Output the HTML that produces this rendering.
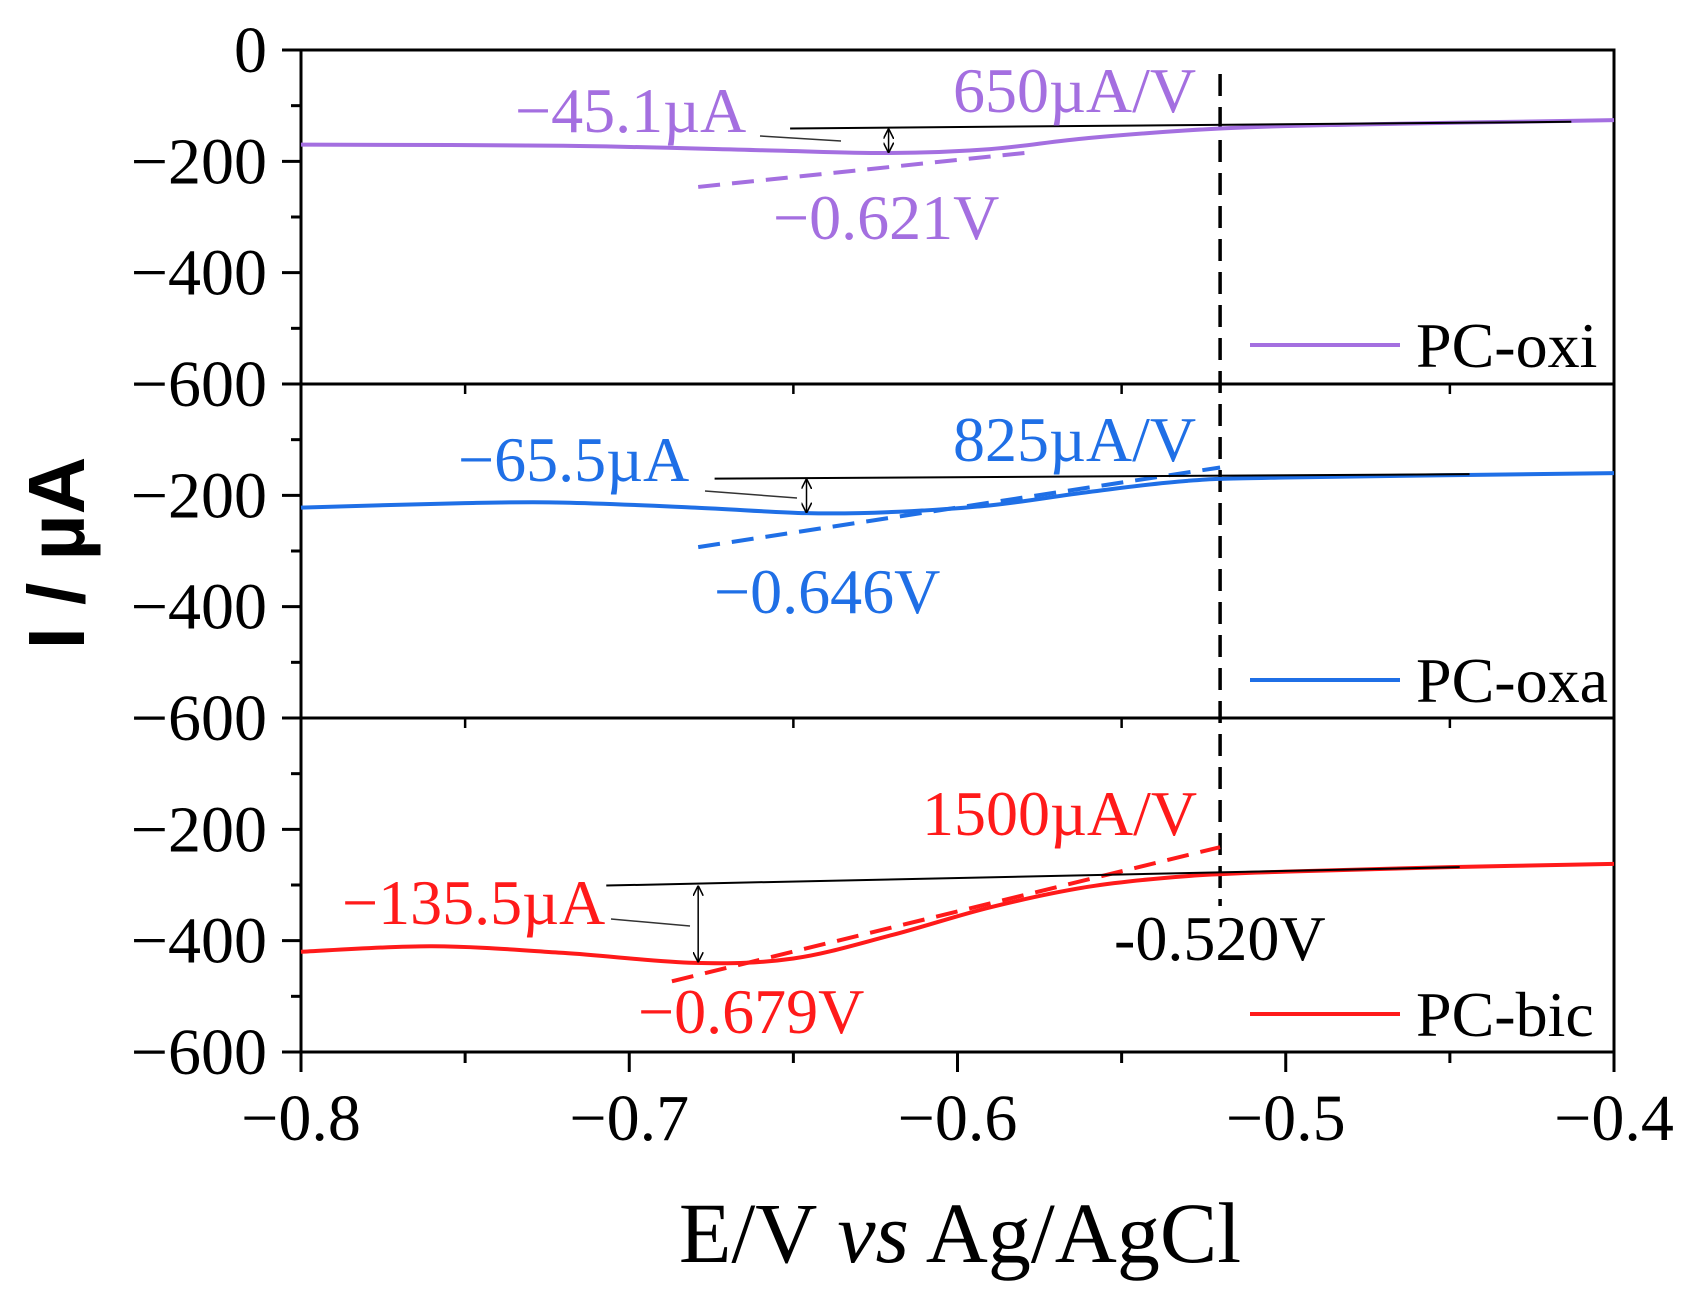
<!DOCTYPE html>
<html><head><meta charset="utf-8"><style>
html,body{margin:0;padding:0;background:#fff}
svg{display:block}
text{font-family:"Liberation Serif",serif}
</style></head><body>
<svg id="s" width="1700" height="1306" viewBox="0 0 1700 1306" xmlns="http://www.w3.org/2000/svg"></svg>
<script>
const s=document.getElementById('s');
const X0=301,X1=1614,tops=[50,384,718],PH=334,K=PH/600;
const px=v=>X0+(v+0.8)*(X1-X0)/0.4;
const py=(p,I)=>tops[p]-I*K;
let h='';
function line(x1,y1,x2,y2,c,w,extra){h+=`<line x1="${x1}" y1="${y1}" x2="${x2}" y2="${y2}" stroke="${c}" stroke-width="${w}" ${extra||''}/>`;}
function txt(x,y,t,c,fs,extra){h+=`<text x="${x}" y="${y}" fill="${c}" font-size="${fs}" ${extra||''}>${t}</text>`;}
function curve(p,pts,c){
  const P=pts.map(q=>[px(q[0]),py(p,q[1])]);
  let d=`M${P[0][0]},${P[0][1]}`;
  for(let i=0;i<P.length-1;i++){
    const p0=P[i-1]||P[i],p1=P[i],p2=P[i+1],p3=P[i+2]||P[i+1];
    const c1=[p1[0]+(p2[0]-p0[0])/6,p1[1]+(p2[1]-p0[1])/6];
    const c2=[p2[0]-(p3[0]-p1[0])/6,p2[1]-(p3[1]-p1[1])/6];
    d+=` C${c1[0]},${c1[1]} ${c2[0]},${c2[1]} ${p2[0]},${p2[1]}`;
  }
  h+=`<path d="${d}" fill="none" stroke="${c}" stroke-width="4"/>`;
}
const TF=66,AF=64;
for(let p=0;p<3;p++){
  const t=tops[p];
  h+=`<rect x="${X0}" y="${t}" width="${X1-X0}" height="${PH}" fill="none" stroke="#000" stroke-width="3"/>`;
  for(let k=0;k<=6;k++){
    const y=t+k*PH/6;
    if(k%2==0){line(X0-19,y,X0,y,'#000',3);
      const v=-k*100;
      if(!(p>0&&k==0)) txt(X0-34,y+22,v==0?'0':'\u2212'+(-v),'#000',TF,'text-anchor="end"');
    } else line(X0-10,y,X0,y,'#000',3);
  }
  if(p>0){for(let i=1;i<8;i++){const v=-0.8+i*0.05;line(px(v),t,px(v),t+(i%2?10:0),'#000',2.5);}}
}
const BOT=tops[2]+PH;
for(let i=0;i<=8;i++){const v=-0.8+i*0.05,x=px(v);
  if(i%2==0){line(x,BOT,x,BOT+20,'#000',3);
    txt(x,BOT+88,'\u2212'+(Math.abs(v)).toFixed(1),'#000',TF,'text-anchor="middle"');}
  else line(x,BOT,x,BOT+11,'#000',3);}
line(px(-0.52),74,px(-0.52),906,'#000',3.5,'stroke-dasharray="22,11"');
const PU='#a46fe0',BL='#1f6fe6',RD='#ff1a1a';
curve(0,[[-0.8,-170],[-0.72,-172],[-0.66,-180],[-0.621,-185],[-0.59,-178],[-0.56,-158],[-0.52,-141],[-0.48,-134],[-0.4,-126]],PU);
line(px(-0.679),py(0,-246),px(-0.578),py(0,-184),PU,4,'stroke-dasharray="22,12"');
line(px(-0.651),py(0,-141),px(-0.413),py(0,-129),'#000',2);
line(px(-0.621),py(0,-143),px(-0.621),py(0,-183),'#000',1.5,'marker-start="url(#a)" marker-end="url(#a)"');
line(760,136,841,141,'#333',1.5);
txt(515,132,'\u221245.1\u00b5A',PU,AF);
txt(953,112,'650\u00b5A/V',PU,AF);
txt(773,239,'\u22120.621V',PU,AF);
line(1250,345,1400,345,PU,4);txt(1416,367,'PC-oxi','#000',AF);
curve(1,[[-0.8,-222],[-0.75,-214],[-0.72,-213],[-0.68,-222],[-0.646,-232],[-0.62,-230],[-0.59,-218],[-0.56,-194],[-0.53,-174],[-0.5,-168],[-0.4,-160]],BL);
line(px(-0.679),py(1,-293),px(-0.52),py(1,-150),BL,4,'stroke-dasharray="22,12"');
line(px(-0.674),py(1,-170),px(-0.444),py(1,-162),'#000',2);
line(px(-0.646),py(1,-172),px(-0.646),py(1,-230),'#000',1.5,'marker-start="url(#a)" marker-end="url(#a)"');
line(705,491,797,498,'#333',1.5);
txt(458,481,'\u221265.5\u00b5A',BL,AF);
txt(953,461,'825\u00b5A/V',BL,AF);
txt(714,613,'\u22120.646V',BL,AF);
line(1250,680,1400,680,BL,4);txt(1416,702,'PC-oxa','#000',AF);
curve(2,[[-0.8,-420],[-0.76,-410],[-0.72,-422],[-0.68,-440],[-0.65,-432],[-0.62,-390],[-0.59,-340],[-0.56,-303],[-0.53,-284],[-0.5,-276],[-0.45,-268],[-0.4,-262]],RD);
line(px(-0.687),py(2,-473),px(-0.52),py(2,-232),RD,4,'stroke-dasharray="22,12"');
line(px(-0.707),py(2,-301),px(-0.447),py(2,-268),'#000',2);
line(px(-0.679),py(2,-303),px(-0.679),py(2,-437),'#000',1.5,'marker-start="url(#a)" marker-end="url(#a)"');
line(611,919,690,926,'#333',1.5);
txt(342,924,'\u2212135.5\u00b5A',RD,AF);
txt(922,835,'1500\u00b5A/V',RD,AF);
txt(638,1033,'\u22120.679V',RD,AF);
txt(1114,960,'-0.520V','#000',AF);
line(1250,1014,1400,1014,RD,4);txt(1416,1036,'PC-bic','#000',AF);
txt(960,1262,'E/V <tspan font-style="italic">vs</tspan> Ag/AgCl','#000',86,'text-anchor="middle"');
h+=`<text transform="translate(84,553) rotate(-90)" text-anchor="middle" font-size="80" font-weight="bold" style="font-family:'Liberation Sans',sans-serif" fill="#000">I / \u00b5A</text>`;
s.innerHTML=`<defs><marker id="a" viewBox="0 0 10 10" refX="9" refY="5" markerWidth="7" markerHeight="7" orient="auto-start-reverse"><path d="M0,0 L10,5 L0,10" fill="none" stroke="#000" stroke-width="1.5"/></marker></defs>`+h;
</script>
</body></html>
